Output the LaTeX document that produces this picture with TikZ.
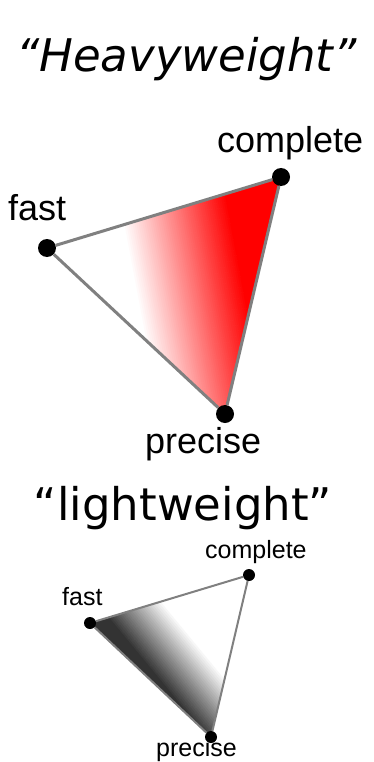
\documentclass[tikz,border=0pt]{standalone}
\usepackage{fontspec}
\setmainfont{Liberation Sans}
\newfontfamily\titlefont{DejaVu Sans}
\definecolor{edgegray}{gray}{0.5}
\definecolor{darkfill}{gray}{0.2}

\begin{document}
\begin{tikzpicture}[
	x=1pt, y=-1pt,
	dot/.style={ circle, fill=black, inner sep=0pt, minimum size=18pt },
	dots/.style={ circle, fill=black, inner sep=0pt, minimum size=12pt },
	edge/.style={ edgegray, line width=3pt },
	edges/.style={ edgegray, line width=2pt },
	lbl/.style={ anchor=base west, inner sep=0pt, font=\fontsize{36}{40}\selectfont },
	lbls/.style={ anchor=base west, inner sep=0pt, font=\fontsize{25}{28}\selectfont },
	heading/.style={ anchor=base, inner sep=0pt, font=\titlefont\fontsize{45}{54}\selectfont }
]
\useasboundingbox (0,0) rectangle (373,762);

% heavyweight
\node at (186.5,72) (htitle) [heading] {\itshape “Heavyweight”};

\coordinate (hf) at (47,248);
\coordinate (hc) at (281,177);
\coordinate (hp) at (225,414);

\begin{scope}
\clip (hf) -- (hc) -- (hp) -- cycle;
\fill[white] (hf) -- (hc) -- (hp) -- cycle;
\begin{scope}[shift={(123,227)}, rotate=10.7]
\foreach \i [evaluate=\i as \pct using 100*\i/53] in {0,...,53}
	\fill[red!\pct!white] (2*\i,-400) rectangle (2*\i+2.5,400);
\fill[red] (107,-400) rectangle (400,400);
\end{scope}
\end{scope}

\node at (hf) (hfast) [dot] {};
\node at (hc) (hcomp) [dot] {};
\node at (hp) (hprec) [dot] {};
\draw[edge] (hfast) -- (hcomp);
\draw[edge] (hcomp) -- (hprec);
\draw[edge] (hprec) -- (hfast);

\node at (8,220) (hfastl) [lbl] {fast};
\node at (217,153) (hcompl) [lbl] {complete};
\node at (145,453) (hprecl) [lbl] {precise};

% lightweight
\node at (183,520) (ltitle) [heading] {“lightweight”};

\coordinate (lf) at (90,623);
\coordinate (lc) at (249,575);
\coordinate (lp) at (211,737);

\begin{scope}
\clip (lf) -- (lc) -- (lp) -- cycle;
\fill[white] (lf) -- (lc) -- (lp) -- cycle;
\begin{scope}[shift={(170,610)}, rotate=39.5]
\foreach \i [evaluate=\i as \pct using 100*\i/26] in {0,...,26}
	\fill[darkfill!\pct!white] (-2*\i,-400) rectangle (-2*\i-2.5,400);
\fill[darkfill] (-52,-400) rectangle (-400,400);
\end{scope}
\end{scope}

\node at (lf) (lfast) [dots] {};
\node at (lc) (lcomp) [dots] {};
\node at (lp) (lprec) [dots] {};
\draw[edges] (lfast) -- (lcomp);
\draw[edges] (lcomp) -- (lprec);
\draw[edges] (lprec) -- (lfast);

\node at (62,605) (lfastl) [lbls] {fast};
\node at (205,558) (lcompl) [lbls] {complete};
\node at (156,756) (lprecl) [lbls] {precise};

\end{tikzpicture}
\end{document}
